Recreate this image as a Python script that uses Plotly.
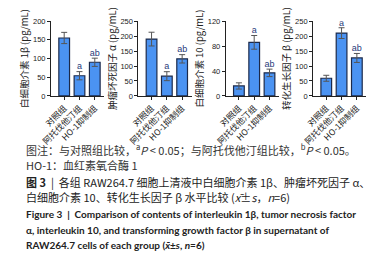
import plotly.graph_objects as go

groups = ["对照组", "阿托伐他汀组", "HO-1抑制组"]

il1b_mean = [155, 54, 90]
il1b_sd = [15, 11, 11]
il1b_marks = ["", "a", "ab"]

tnfa_mean = [190, 66, 124]
tnfa_sd = [23, 15, 14]
tnfa_marks = ["", "a", "ab"]

il10_mean = [16, 86, 37]
il10_sd = [5, 11, 6]
il10_marks = ["", "a", "ab"]

tgfb_mean = [59, 210, 127]
tgfb_sd = [10, 18, 15]
tgfb_marks = ["", "a", "ab"]

y_titles = ["白细胞介素 1β (pg/mL)", "肿瘤坏死因子 α (pg/mL)",
            "白细胞介素 10 (pg/mL)", "转化生长因子 β (pg/mL)"]
y_max = [200, 250, 120, 250]
y_dtick = [50, 50, 40, 50]

panels = [
    (il1b_mean, il1b_sd, il1b_marks),
    (tnfa_mean, tnfa_sd, tnfa_marks),
    (il10_mean, il10_sd, il10_marks),
    (tgfb_mean, tgfb_sd, tgfb_marks),
]

W, H = 375, 254
x_left_px = [33, 123, 213, 303]
axis_len_px = 55
y_zero_px, y_top_px = 87, 9.5

BAR = "#4b93f2"
EDGE = "#1c2a4a"
CJK = "Noto Sans CJK SC"
ENG = "Lato"

fig = go.Figure()
for i, (mean, sd, marks) in enumerate(panels):
    n = i + 1
    xa = "x" if n == 1 else f"x{n}"
    ya = "y" if n == 1 else f"y{n}"
    fig.add_trace(go.Bar(
        x=list(range(len(groups))), y=mean, xaxis=xa, yaxis=ya,
        marker=dict(color=BAR, line=dict(color=EDGE, width=1.2)),
        width=0.7,
        error_y=dict(type="data", array=sd, visible=True, color="#555555",
                     thickness=1, width=3),
        showlegend=False,
    ))
    fig.add_trace(go.Scatter(
        x=list(range(len(groups))), y=[m + s for m, s in zip(mean, sd)],
        xaxis=xa, yaxis=ya, mode="text", text=marks,
        textposition="top center",
        textfont=dict(size=9, color="#1f3a7a", family="Arial"),
        showlegend=False, hoverinfo="skip",
    ))
    x0 = x_left_px[i] / W
    x1 = (x_left_px[i] + axis_len_px) / W
    y0 = 1 - y_zero_px / H
    y1 = 1 - y_top_px / H
    xkey = "xaxis" if n == 1 else f"xaxis{n}"
    ykey = "yaxis" if n == 1 else f"yaxis{n}"
    fig.update_layout(**{
        xkey: dict(domain=[x0, x1], anchor=ya, range=[-0.86, 2.63],
                   tickmode="array", tickvals=list(range(len(groups))),
                   ticktext=groups, tickangle=-45,
                   tickfont=dict(size=8.5, family=CJK, color="#222222"),
                   showline=True, linecolor="#222222", linewidth=1,
                   ticks="outside", ticklen=3, tickcolor="#222222",
                   showgrid=False, zeroline=False, fixedrange=True),
        ykey: dict(domain=[y0, y1], anchor=xa, range=[0, y_max[i]],
                   dtick=y_dtick[i], showline=True, linecolor="#222222",
                   linewidth=1, ticks="outside", ticklen=3,
                   tickcolor="#222222",
                   tickfont=dict(size=7.5, family="Arial", color="#222222"),
                   title=dict(text=y_titles[i], standoff=2,
                              font=dict(size=9.5, family=CJK, color="#222222")),
                   showgrid=False, zeroline=False, fixedrange=True),
    })

captions = [
    (143, "图注：与对照组比较，<sup>a</sup><i>P</i> &lt; 0.05；与阿托伐他汀组比较，<sup>b</sup><i>P</i> &lt; 0.05。", 11, CJK, "#333333"),
    (159, "HO-1：血红素氧合酶 1", 11, CJK, "#333333"),
    (176, "<b>图 3</b>  |  各组 RAW264.7 细胞上清液中白细胞介素 1β、肿瘤坏死因子 α、", 11, CJK, "#222222"),
    (192, "白细胞介素 10、转化生长因子 β 水平比较 (<i>x̄</i>±<i>s</i>，<i>n</i>=6)", 11, CJK, "#222222"),
    (209, "<b>Figure 3  |  Comparison of contents of interleukin 1β, tumor necrosis factor</b>", 10, ENG, "#222222"),
    (226, "<b>α, interleukin 10, and transforming growth factor β in supernatant of</b>", 10, ENG, "#222222"),
    (242, "<b>RAW264.7 cells of each group (<i>x̄</i>±<i>s</i>, <i>n</i>=6)</b>", 10, ENG, "#222222"),
]
for ypx, txt, sz, fam, col in captions:
    fig.add_annotation(x=5 / W, y=1 - ypx / H, xref="paper", yref="paper",
                       xanchor="left", yanchor="middle", showarrow=False,
                       text=txt, font=dict(size=sz, family=fam, color=col))

fig.update_layout(width=W, height=H, margin=dict(l=0, r=0, t=0, b=0),
                  paper_bgcolor="white", plot_bgcolor="white",
                  bargap=0.3)

fig.write_html("out.html")
